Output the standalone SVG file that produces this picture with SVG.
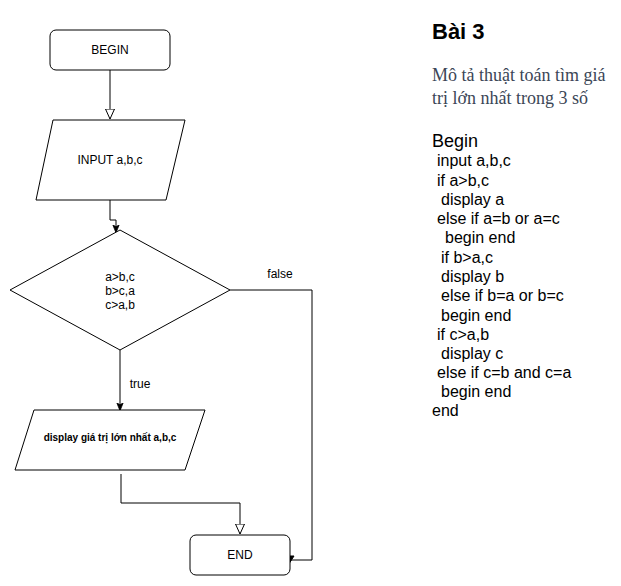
<svg xmlns="http://www.w3.org/2000/svg" width="621" height="586" viewBox="0 0 621 586">
<style>
.shape{fill:#fff;stroke:#000;stroke-width:1}
.lbl{font-family:"Liberation Sans",Arial,sans-serif;font-size:12px;fill:#000;text-anchor:middle;dominant-baseline:central}
.conn{fill:none;stroke:#000;stroke-width:1}
.code{font-family:"Liberation Sans",Arial,sans-serif;font-size:16px;fill:#000}
.desc{font-family:"Liberation Serif","Times New Roman",serif;font-size:18px;fill:#3b4656}
</style>
<defs>
<marker id="open" viewBox="0 0 10 10" refX="10" refY="5" markerWidth="10" markerHeight="10" markerUnits="userSpaceOnUse" orient="auto">
<path d="M0,0.5 L10,5 L0,9.5 Z" fill="#fff" stroke="#000" stroke-width="1"/>
</marker>
<marker id="fill" viewBox="0 0 10 10" refX="9" refY="5" markerWidth="8" markerHeight="8" markerUnits="userSpaceOnUse" orient="auto">
<path d="M0,1 L10,5 L0,9 L2.5,5 Z" fill="#000" stroke="#000" stroke-width="1"/>
</marker>
</defs>
<g id="connectors">
<path class="conn" d="M110,70 V119" marker-end="url(#open)"/>
<path class="conn" d="M110,200 V220 H116 V232" marker-end="url(#fill)"/>
<path class="conn" d="M120,350 V410" marker-end="url(#fill)"/>
<path class="conn" d="M230,290 H312 V560 H291"/>
<path d="M285,556 L294,556 L289.5,563 Z" fill="#000" stroke="#000" stroke-width="1"/>
<path class="conn" d="M121,474 V503 H240 V534" stroke="#444" marker-end="url(#open)"/>
<text class="lbl" x="280" y="274">false</text>
<text class="lbl" x="140" y="384">true</text>
</g>
<g id="begin">
<rect class="shape" x="50" y="30" width="120" height="40" rx="6" ry="6"/>
<text class="lbl" x="110" y="50">BEGIN</text>
</g>
<g id="input">
<polygon class="shape" points="53,120 185,120 166,200 36,200"/>
<text class="lbl" x="110" y="160">INPUT a,b,c</text>
</g>
<g id="decision">
<polygon class="shape" points="120,230 230,290 120,350 10,290"/>
<text class="lbl" x="120" y="277">a&gt;b,c</text>
<text class="lbl" x="120" y="291">b&gt;c,a</text>
<text class="lbl" x="120" y="305">c&gt;a,b</text>
</g>
<g id="display">
<polygon class="shape" points="34,410 205,410 185,470 15,470"/>
<text class="lbl" x="110" y="437" style="font-size:10px;font-weight:bold">display giá trị lớn nhất a,b,c</text>
</g>
<g id="end">
<rect class="shape" x="190" y="535" width="100" height="40" rx="6" ry="6"/>
<text class="lbl" x="240" y="555">END</text>
</g>
<g id="notes">
<text x="432" y="39" style="font-family:'Liberation Sans',Arial,sans-serif;font-size:22px;font-weight:bold;fill:#000">Bài 3</text>
<text class="desc" x="432" y="81">Mô tả thuật toán tìm giá</text>
<text class="desc" x="432" y="104">trị lớn nhất trong 3 số</text>
<text class="code" x="432" y="147" style="font-size:18px">Begin</text>
<text class="code" x="437" y="166">input a,b,c</text>
<text class="code" x="437" y="186">if a&gt;b,c</text>
<text class="code" x="441" y="205">display a</text>
<text class="code" x="437" y="224">else if a=b or a=c</text>
<text class="code" x="445" y="243">begin end</text>
<text class="code" x="441" y="263">if b&gt;a,c</text>
<text class="code" x="441" y="282">display b</text>
<text class="code" x="441" y="301">else if b=a or b=c</text>
<text class="code" x="441" y="321">begin end</text>
<text class="code" x="437" y="340">if c&gt;a,b</text>
<text class="code" x="441" y="359">display c</text>
<text class="code" x="437" y="378">else if c=b and c=a</text>
<text class="code" x="441" y="397">begin end</text>
<text class="code" x="432" y="416">end</text>
</g>
</svg>
